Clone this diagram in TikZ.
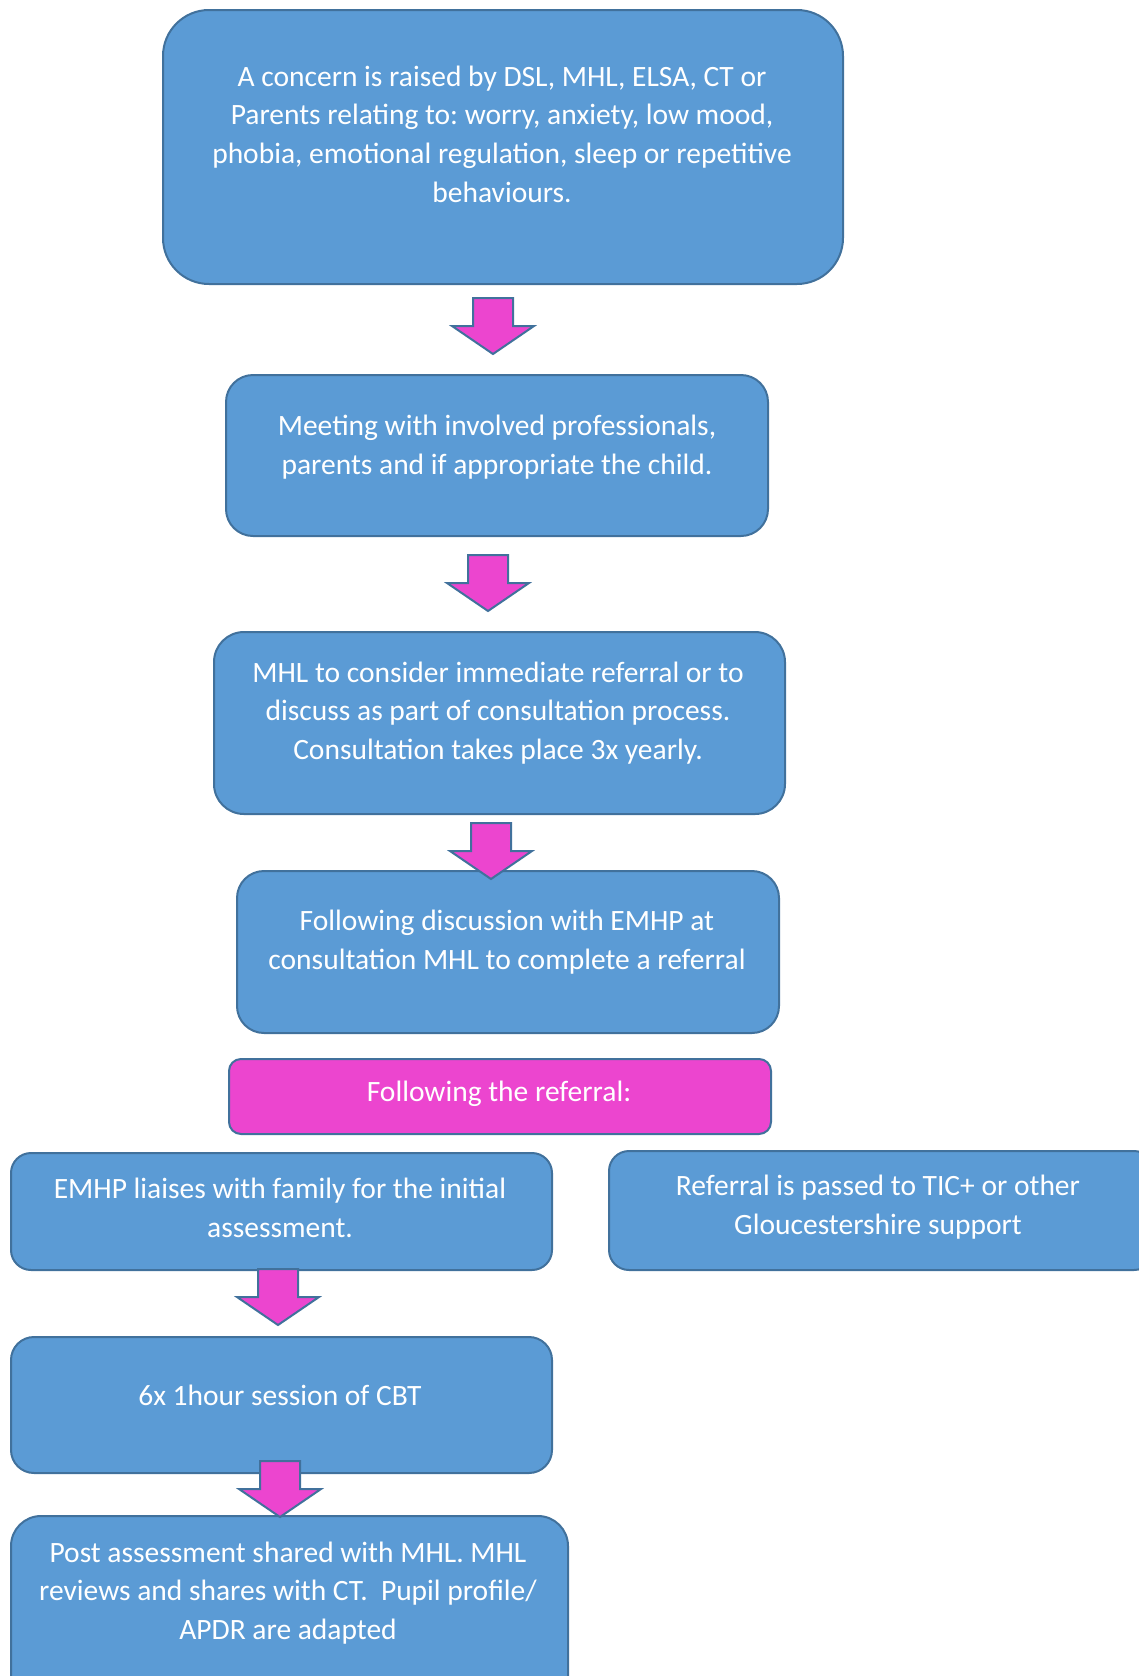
\documentclass[tikz,border=0pt]{standalone}
\usepackage{fontspec}
\setmainfont{Carlito}
\definecolor{boxblue}{HTML}{5B9BD5}
\definecolor{edgeblue}{HTML}{41719C}
\definecolor{hotpink}{HTML}{EC45CF}
\tikzset{
  flowbox/.style={draw=edgeblue, fill=boxblue, line width=2pt, anchor=north west, inner sep=0pt},
  pinkbox/.style={flowbox, fill=hotpink},
  txt/.style={text=white, align=center, inner sep=0pt, font=\fontsize{29.5}{38.6}\selectfont\frenchspacing},
  blockarr/.style={fill=hotpink, draw=edgeblue, line width=2pt, line join=miter},
  downarrow/.pic={\draw[blockarr] (-20,0) -- (20,0) -- (20,28) -- (41,28) -- (0,56) -- (-41,28) -- (-20,28) -- cycle;}
}
\begin{document}
\begin{tikzpicture}[x=1pt,y=-1pt]
\useasboundingbox (0,0) rectangle (1139,1676);
\clip (0,0) rectangle (1139,1676);
% boxes
\node[flowbox, minimum width=680pt, minimum height=274pt, rounded corners=46pt] (b1) at (162,9) {};
\node[flowbox, minimum width=542pt, minimum height=161pt, rounded corners=27pt] (b2) at (225,374) {};
\node[flowbox, minimum width=571pt, minimum height=182pt, rounded corners=30pt] (b3) at (213,631) {};
\node[flowbox, minimum width=542pt, minimum height=162pt, rounded corners=27pt] (b4) at (236,870) {};
\node[pinkbox, minimum width=542pt, minimum height=75pt, rounded corners=12pt] (p1) at (228,1058) {};
\node[flowbox, minimum width=541pt, minimum height=117pt, rounded corners=20pt] (b5) at (10,1152) {};
\node[flowbox, minimum width=545pt, minimum height=119pt, rounded corners=20pt] (b6) at (608,1150) {};
\node[flowbox, minimum width=541pt, minimum height=136pt, rounded corners=23pt] (b7) at (10,1336) {};
\node[flowbox, minimum width=557pt, minimum height=190pt, rounded corners=30pt] (b8) at (10,1515) {};
% texts
\node[txt] (t1) at (502,134) {A concern is raised by DSL, MHL, ELSA, CT or\\Parents relating to: worry, anxiety, low mood,\\phobia, emotional regulation, sleep or repetitive\\behaviours.};
\node[txt] (t2) at (497,447) {Meeting with involved professionals,\\parents and if appropriate the child.};
\node[txt] (t3) at (498,713) {MHL to consider immediate referral or to\\discuss as part of consultation process.\\Consultation takes place 3x yearly.};
\node[txt] (t4) at (507,942) {Following discussion with EMHP at\\consultation MHL to complete a referral};
\node[txt] (t5) at (499,1094) {Following the referral:};
\node[txt] (t6) at (280,1208) {EMHP liaises with family for the initial\\assessment.};
\node[txt] (t7) at (878,1207) {Referral is passed to TIC+ or other\\Gloucestershire support};
\node[txt] (t8) at (280,1395) {6x 1hour session of CBT};
\node[txt] (t9) at (288,1593) {Post assessment shared with MHL. MHL\\reviews and shares with CT.\ \ Pupil profile/\\APDR are adapted};
% block arrows
\pic (a1) at (493,298) {downarrow};
\pic (a2) at (488,555) {downarrow};
\pic (a3) at (491,823) {downarrow};
\pic (a4) at (278,1269) {downarrow};
\pic (a5) at (280,1461) {downarrow};
\end{tikzpicture}
\end{document}
